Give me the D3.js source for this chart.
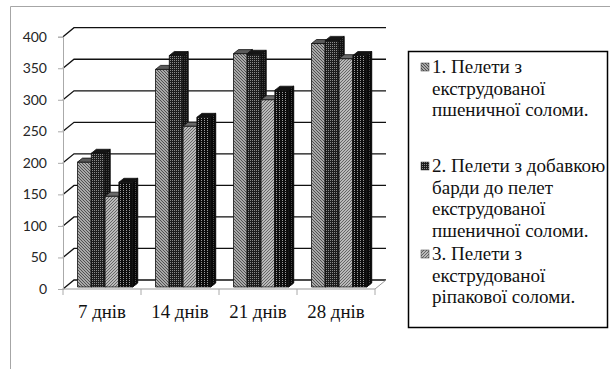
<!DOCTYPE html>
<html>
<head>
<meta charset="utf-8">
<script src="https://cdn.jsdelivr.net/npm/d3@7"></script>
</head>
<body style="margin:0">
<svg id="chart" width="610" height="369"></svg>
<script>
// values
const categories = ["7 днів", "14 днів", "21 днів", "28 днів"];
const series1 = [198, 345, 370, 386];
const series2 = [212, 367, 369, 391];
const series3 = [144, 255, 297, 362];
const series4 = [166, 269, 312, 367];
const yTicks = [0, 50, 100, 150, 200, 250, 300, 350, 400];
const legendLabels = [
    ["1. Пелети з", "екструдованої", "пшеничної соломи."],
    ["2. Пелети з добавкою", "барди до пелет", "екструдованої", "пшеничної соломи."],
    ["3. Пелети з", "екструдованої", "ріпакової соломи."]
];

const width = 610, height = 369;
const wallDx = 11, wallDy = 9;     // depth of the back wall
const barDx = 5, barDy = 4;        // depth of each bar
const serifFont = '"Liberation Serif", "Times New Roman", monospace';

const svg = d3.select("#chart").style("display", "block");

// patterns for the bars
const defs = svg.append("defs");
function hatch(id, bg, fg, dir) {
    const p = defs.append("pattern")
        .attr("id", id).attr("patternUnits", "userSpaceOnUse")
        .attr("width", 3).attr("height", 3);
    p.append("rect").attr("width", 3).attr("height", 3).attr("fill", bg);
    const d = dir > 0 ? "M0,3 L3,0 M-1,1 L1,-1 M2,4 L4,2" : "M0,0 L3,3 M-1,2 L1,4 M2,-1 L4,1";
    p.append("path").attr("d", d).attr("stroke", fg).attr("stroke-width", 1.1);
}
function dots(id, bg, fg, w, h) {
    const p = defs.append("pattern")
        .attr("id", id).attr("patternUnits", "userSpaceOnUse")
        .attr("width", w).attr("height", h);
    p.append("rect").attr("width", w).attr("height", h).attr("fill", bg);
    p.append("rect").attr("width", 1).attr("height", 1).attr("fill", fg);
}
hatch("p1", "#cfcfcf", "#4a4a4a", -1);
dots("p2", "#1c1c1c", "#8a8a8a", 2, 2);
hatch("p3", "#dedede", "#5e5e5e", 1);
dots("p4", "#0c0c0c", "#9a9a9a", 3, 2);

const fills = ["url(#p1)", "url(#p2)", "url(#p3)", "url(#p4)"];
const topFills = ["#5a5a5a", "#151515", "#6a6a6a", "#111"];
const sideFills = ["#444", "#0a0a0a", "#555", "#050505"];

// outer frame (only top and left visible)
svg.append("path")
    .attr("d", `M10.5,${height} L10.5,6.5 L${width},6.5`)
    .attr("fill", "none").attr("stroke", "#a6a6a6").attr("stroke-width", 1);

const x0 = d3.scaleBand()
    .domain(categories)
    .range([63, 375]);

const x1 = d3.scaleBand()
    .domain(d3.range(4))
    .range([0.186 * x0.bandwidth(), 0.893 * x0.bandwidth()]);

const y = d3.scaleLinear()
    .domain([0, 400])
    .range([289, 36.7]);

const xLeft = x0.range()[0], xRight = x0.range()[1];

// back wall gridlines
svg.append("g").selectAll("path")
    .data(yTicks)
    .join("path")
    .attr("d", d => `M${xLeft},${y(d)} L${xLeft + wallDx},${y(d) - wallDy} L${xRight + wallDx},${y(d) - wallDy}`)
    .attr("fill", "none")
    .attr("stroke", "#111")
    .attr("stroke-width", 1.3);

// floor
svg.append("path")
    .attr("d", `M${xLeft},${y(0)} L${xRight},${y(0)} L${xRight + wallDx},${y(0) - wallDy}`)
    .attr("fill", "none").attr("stroke", "#999").attr("stroke-width", 1);

// y axis
const yAxis = svg.append("g")
    .attr("transform", `translate(${xLeft},0)`)
    .call(d3.axisLeft(y).tickValues(yTicks).tickSize(5).tickPadding(11));
yAxis.select(".domain").attr("stroke", "#aaa");
yAxis.selectAll(".tick line").attr("stroke", "#aaa");
yAxis.selectAll("text")
    .attr("fill", "#262626")
    .style("font-family", '"Lato", monospace')
    .style("font-size", "14px");

// x axis, labels a little wider than the plain font
const xAxis = svg.append("g")
    .attr("transform", `translate(0,${y(0)})`)
    .call(d3.axisBottom(x0).tickSize(0).tickPadding(0));
xAxis.select(".domain").remove();
xAxis.selectAll("text")
    .attr("y", 29)
    .attr("dy", 0)
    .attr("transform", "scale(1.05,1)")
    .attr("fill", "#111")
    .style("font-family", serifFont)
    .style("font-size", "18px");
svg.append("g").selectAll("line")
    .data(d3.range(categories.length + 1))
    .join("line")
    .attr("x1", i => xLeft + i * x0.bandwidth())
    .attr("x2", i => xLeft + i * x0.bandwidth())
    .attr("y1", y(0)).attr("y2", y(0) + 6)
    .attr("stroke", "#aaa");

// bars
const allSeries = [series1, series2, series3, series4];
const bars = [];
categories.forEach((c, ci) => {
    allSeries.forEach((s, si) => {
        bars.push({ cat: c, s: si, value: s[ci] });
    });
});

const base = y(0) - 2;
const barGroups = svg.append("g").selectAll("g")
    .data(bars)
    .join("g")
    .attr("stroke", "#111")
    .attr("stroke-width", 0.8)
    .attr("stroke-linejoin", "round");

barGroups.each(function(d) {
    const g = d3.select(this);
    const bx = x0(d.cat) + x1(d.s);
    const bw = x1.bandwidth();
    const top = y(d.value) - 2;
    g.append("rect")
        .attr("x", bx).attr("y", top)
        .attr("width", bw).attr("height", base - top)
        .attr("fill", fills[d.s]);
    g.append("path")
        .attr("d", `M${bx},${top} L${bx + barDx},${top - barDy} L${bx + bw + barDx},${top - barDy} L${bx + bw},${top} Z`)
        .attr("fill", topFills[d.s]);
    g.append("path")
        .attr("d", `M${bx + bw},${top} L${bx + bw + barDx},${top - barDy} L${bx + bw + barDx},${base - barDy} L${bx + bw},${base} Z`)
        .attr("fill", fills[d.s]);
    g.append("path")
        .attr("d", `M${bx + bw},${top} L${bx + bw + barDx},${top - barDy} L${bx + bw + barDx},${base - barDy} L${bx + bw},${base} Z`)
        .attr("fill", sideFills[d.s])
        .attr("fill-opacity", 0.55);
});

// legend
const legend = svg.append("g");
legend.append("rect")
    .attr("x", 408.5).attr("y", 51.5)
    .attr("width", 199).attr("height", 276)
    .attr("fill", "#fff")
    .attr("stroke", "#000")
    .attr("stroke-width", 1.5);

const entryTop = [73, 172, 260];
const lineH = 21.6;
legendLabels.forEach((lines, i) => {
    const item = legend.append("g")
        .attr("transform", `translate(0,${entryTop[i]})`);
    item.append("rect")
        .attr("x", 421).attr("y", -10)
        .attr("width", 8).attr("height", 8)
        .attr("fill", fills[i])
        .attr("stroke", "#333")
        .attr("stroke-width", 0.5);
    item.append("g")
        .attr("transform", "translate(432,0) scale(1.06,1)")
        .selectAll("text")
        .data(lines)
        .join("text")
        .attr("x", 0)
        .attr("y", (d, j) => j * lineH)
        .attr("fill", "#111")
        .style("font-family", serifFont)
        .style("font-size", "18px")
        .text(d => d);
});
</script>
</body>
</html>
